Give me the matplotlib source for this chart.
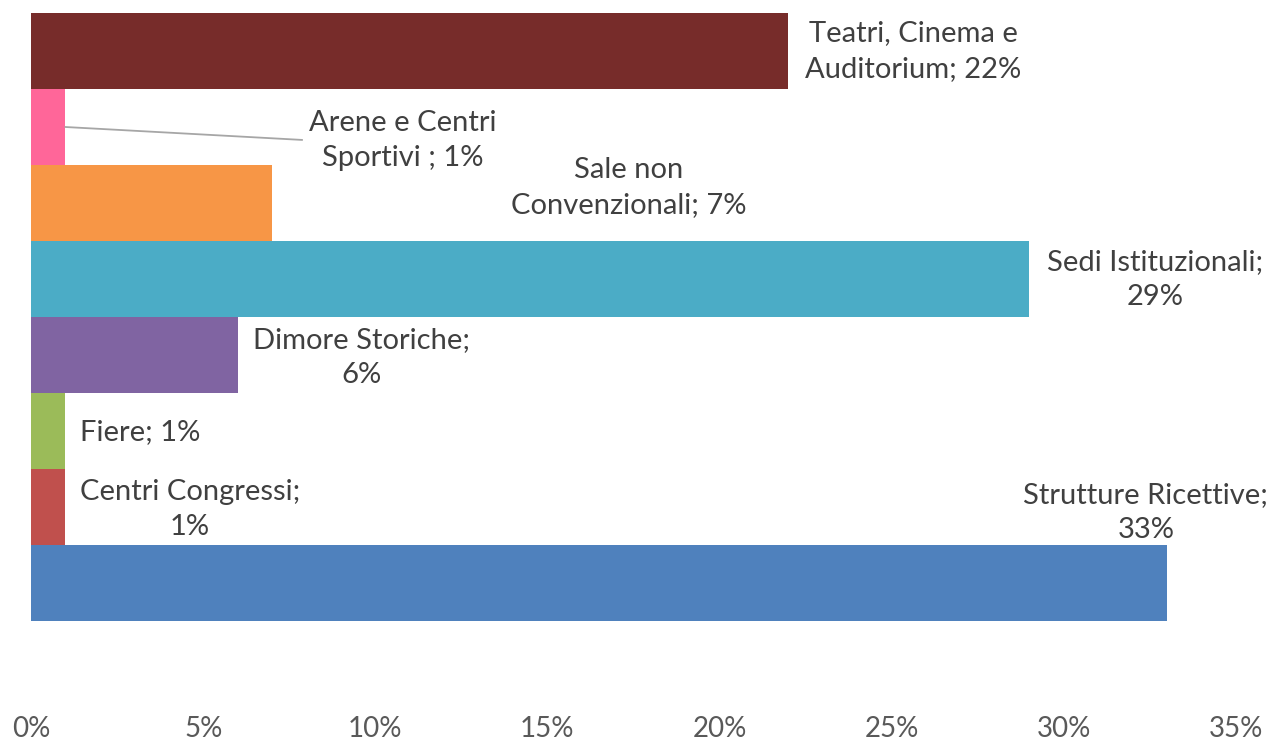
import matplotlib
matplotlib.use('Agg')
from matplotlib import pyplot as plt
from matplotlib.ticker import FuncFormatter

# categories from top to bottom
categories = ['Teatri, Cinema e\nAuditorium', 'Arene e Centri\nSportivi ', 'Sale non\nConvenzionali',
              'Sedi Istituzionali;\n', 'Dimore Storiche;\n', 'Fiere', 'Centri Congressi;\n',
              'Strutture Ricettive;\n']
values = [22, 1, 7, 29, 6, 1, 1, 33]
colors = ['#772C2A', '#FF6699', '#F79646', '#4BACC6', '#8064A2', '#9BBB59', '#C0504D', '#4F81BD']
xticks = [0, 5, 10, 15, 20, 25, 30, 35]

# label anchor positions (x in %, y in bar units)
label_pos = [(25.62, 0.0), (10.8, 1.18), (17.37, 1.80), (32.65, 3.01),
             (9.61, 4.03), (3.17, 5.01), (4.62, 6.03), (32.38, 6.07)]

plt.rcParams['font.family'] = ['Lato', 'DejaVu Sans']

fig = plt.figure(figsize=(12.76, 7.43), dpi=100)
ax = fig.add_axes([31 / 1276, 1 - 697 / 743, (1236 - 31) / 1276, (697 - 13) / 743])

y = list(range(len(values)))
ax.barh(y, values, height=1.0, color=colors)

for i, (cat, v) in enumerate(zip(categories, values)):
    lx, ly = label_pos[i]
    if cat.endswith('\n'):
        txt = cat + f'{v}%'
    else:
        txt = cat + f'; {v}%'
    ax.text(lx, ly, txt, ha='center', va='center', fontsize=21, color='#404040',
            linespacing=1.44)

# leader line for the small pink bar
ax.plot([values[1], 7.87], [1.0, 1.17], color='#A6A6A6', lw=1.3)

ax.set_xlim(0, 35)
ax.set_ylim(8.5, -0.5)
ax.set_xticks(xticks)
ax.xaxis.set_major_formatter(FuncFormatter(lambda v, p: f'{v:.0f}%'))
ax.tick_params(axis='x', length=0, pad=14, labelsize=20, labelcolor='#595959')
ax.set_yticks([])
for s in ax.spines.values():
    s.set_visible(False)

fig.savefig('out.png', dpi=100)
